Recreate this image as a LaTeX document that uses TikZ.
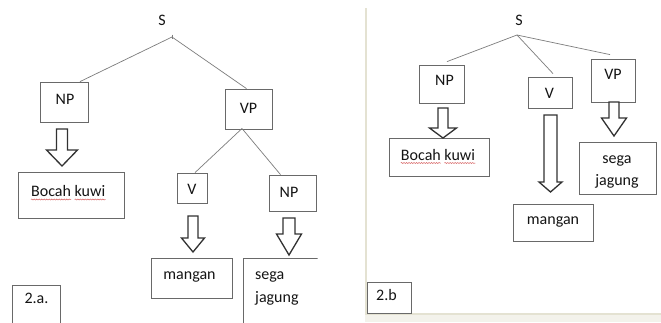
\documentclass[tikz,border=0pt]{standalone}
\usepackage{fontspec}
\setmainfont{Carlito}
\usetikzlibrary{decorations.pathmorphing,calc}
\definecolor{boxc}{RGB}{105,105,105}
\definecolor{linec}{RGB}{125,125,125}
\definecolor{arrc}{RGB}{50,50,50}
\definecolor{txtc}{RGB}{20,20,20}
\definecolor{panelc}{RGB}{228,226,210}
\definecolor{spellc}{RGB}{215,95,95}
\tikzset{
  lbl/.style={font=\fontsize{16}{22}\selectfont, text=txtc, inner sep=0pt, anchor=base},
  tbox/.style={draw=boxc, line width=0.8pt, inner sep=0pt},
  branch/.style={draw=linec, line width=0.7pt},
  harrow/.style={draw=arrc, line width=1.3pt, line join=miter, fill=white},
  spell/.style={draw=spellc, line width=0.5pt, decorate,
    decoration={snake, amplitude=0.5pt, segment length=2.5pt}},
}
% cx, top, headstart, tip, shaft half width, head half width
\newcommand\hollowarrow[6]{%
  \draw[harrow] ({#1-#5},#2) -- ({#1+#5},#2) -- ({#1+#5},#3) -- ({#1+#6},#3)
    -- (#1,#4) -- ({#1-#6},#3) -- ({#1-#5},#3) -- cycle;}
\begin{document}
\begin{tikzpicture}[x=1pt,y=-1pt]
\useasboundingbox (0,0) rectangle (661,322);
\fill[white] (0,0) rectangle (661,322);

% ---------------- left panel (2.a.) ----------------
\begin{scope}
\clip (0,0) rectangle (317.5,322);
\node[lbl] (s1) at (162,25) {S};
\coordinate (s1j) at (172,37);
\draw[branch] (172,34.5) -- (172,39);

\node[tbox, minimum width=48pt, minimum height=40pt] (np1) at (64,102) {};
\node[lbl] (np1t) at (65,104) {NP};
\node[tbox, minimum width=47pt, minimum height=40pt] (vp1) at (248.5,109) {};
\node[lbl] (vp1t) at (248.5,113) {VP};

\draw[branch] (s1j) -- ($(np1.north)+(16,0)$);
\draw[branch] (s1j) -- ($(vp1.north)+(-2,0)$);

\node[tbox, minimum width=106pt, minimum height=46pt] (bk1) at (71,195) {};
\node[lbl, anchor=base west] (bk1t) at (31,196) {Bocah kuwi};
\draw[spell] ($(bk1t.base west)+(0,3.5)$) -- ++(40,0);
\draw[spell] ($(bk1t.base west)+(43.6,3.5)$) -- ++(31,0);

\node[tbox, minimum width=30pt, minimum height=30pt] (v1) at (192,188) {};
\node[lbl] (v1t) at (192,194) {V};
\node[tbox, minimum width=47pt, minimum height=36pt] (np1b) at (292.5,193) {};
\node[lbl] (np1bt) at (289,197) {NP};

\coordinate (vp1j) at (242,128.5);
\draw[branch] (vp1j) -- ($(v1.north)+(3,0)$);
\draw[branch] (vp1j) -- ($(np1b.north)+(-12,0)$);

\node[tbox, minimum width=81pt, minimum height=40pt] (mg1) at (191.5,278) {};
\node[lbl] (mg1t) at (189.5,279) {mangan};

\node[tbox, minimum width=100pt, minimum height=90pt] (sj1) at (293,303) {};
\node[lbl, anchor=base west] (sj1a) at (255,279) {sega};
\node[lbl, anchor=base west] (sj1b) at (255,302) {jagung};

\node[tbox, minimum width=48pt, minimum height=50pt] (lab1) at (36,310) {};
\node[lbl] (lab1t) at (36.5,303) {2.a.};

\hollowarrow{62}{129}{150}{166}{5.5}{15.5}
\hollowarrow{193}{216}{238}{252}{5}{11.5}
\hollowarrow{289}{218}{234}{255}{6}{12.5}
\end{scope}

% ---------------- right panel (2.b) ----------------
\fill[panelc!45] (365,314) rectangle (661,322);
\draw[panelc, line width=2pt] (366,8) -- (366,314) -- (661,314);

\node[lbl] (s2) at (519,25) {S};
\coordinate (s2j) at (517,35);

\node[tbox, minimum width=45pt, minimum height=38pt] (np2) at (441.5,84) {};
\node[lbl] (np2t) at (444.5,85) {NP};
\node[tbox, minimum width=44pt, minimum height=31pt] (v2) at (550,92.5) {};
\node[lbl] (v2t) at (549.5,98) {V};
\node[tbox, minimum width=44pt, minimum height=43pt] (vp2) at (613,80.5) {};
\node[lbl] (vp2t) at (613,79) {VP};

\draw[branch] (s2j) -- ($(np2.north)+(5.5,-3)$);
\draw[branch] (s2j) -- ($(v2.north)+(3,-3)$);
\draw[branch] (s2j) -- ($(vp2.north)+(-3,-4)$);

\node[tbox, minimum width=100pt, minimum height=38pt] (bk2) at (439,157) {};
\node[lbl] (bk2t) at (438,160) {Bocah kuwi};
\draw[spell] ($(bk2t.base west)+(0,3)$) -- ++(40,0);
\draw[spell] ($(bk2t.base west)+(43.6,3)$) -- ++(31,0);

\node[tbox, minimum width=80pt, minimum height=37pt] (mg2) at (553,222.5) {};
\node[lbl] (mg2t) at (553,224) {mangan};

\node[tbox, minimum width=77pt, minimum height=52pt] (sj2) at (617.5,168) {};
\node[lbl] (sj2a) at (617,163) {sega};
\node[lbl] (sj2b) at (617,185) {jagung};

\node[tbox, minimum width=44pt, minimum height=31pt] (lab2) at (389,297.5) {};
\node[lbl] (lab2t) at (386.5,300) {2.b};

\hollowarrow{443}{108}{128}{138}{5}{13.5}
\hollowarrow{550.5}{115}{182}{192}{6.5}{11.5}
\hollowarrow{614}{102}{118}{136}{5}{12.5}
\end{tikzpicture}
\end{document}
